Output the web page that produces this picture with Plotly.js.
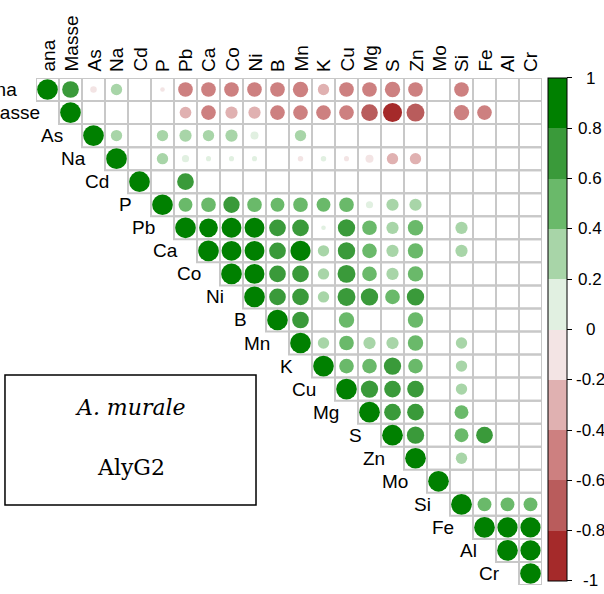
<!DOCTYPE html>
<html>
<head>
<meta charset="utf-8">
<script src="https://cdn.plot.ly/plotly-3.0.1.min.js"></script>
<style>html,body{margin:0;padding:0;background:#fff;overflow:hidden}</style>
</head>
<body>
<div id="chart" style="width:604px;height:594px"></div>
<script>
// Variable names (rows / columns of the correlation matrix)
const variables = ["ana","Masse","As","Na","Cd","P","Pb","Ca","Co","Ni","B","Mn","K","Cu","Mg","S","Zn","Mo","Si","Fe","Al","Cr"];

// Upper triangle rows: each row starts at the diagonal (null = blank cell)
const r_ana   = [1, 0.65, -0.1, 0.3, null, -0.05, -0.5, -0.5, -0.5, -0.5, -0.5, -0.55, -0.3, -0.5, -0.5, -0.55, -0.5, null, -0.5, null, null, null];
const r_Masse = [1, null, null, null, null, -0.32, -0.5, -0.35, -0.35, -0.5, -0.5, -0.5, -0.5, -0.65, -0.85, -0.75, null, -0.55, -0.5, null, null];
const r_As    = [1, 0.3, null, 0.3, 0.35, 0.3, 0.35, 0.15, null, 0.3, null, null, null, null, null, null, null, null, null, null];
const r_Na    = [1, null, 0.3, 0.12, 0.06, 0.06, 0.06, null, -0.07, 0.07, -0.06, -0.15, -0.3, -0.3, null, null, null, null, null];
const r_Cd    = [1, null, 0.65, null, null, null, null, null, null, null, null, null, null, null, null, null, null, null];
const r_P     = [1, 0.45, 0.5, 0.62, 0.5, 0.45, 0.5, 0.45, 0.5, 0.12, 0.35, 0.35, null, null, null, null, null];
const r_Pb    = [1, 0.82, 0.92, 0.92, 0.65, 0.65, 0.05, 0.7, 0.5, 0.35, 0.55, null, 0.35, null, null, null];
const r_Ca    = [1, 0.92, 0.92, 0.65, 0.95, 0.3, 0.7, 0.5, 0.35, 0.55, null, 0.35, null, null, null];
const r_Co    = [1, 0.92, 0.65, 0.65, 0.3, 0.75, 0.5, 0.35, 0.55, null, null, null, null, null];
const r_Ni    = [1, 0.65, 0.65, 0.3, 0.75, 0.7, 0.5, 0.7, null, null, null, null, null];
const r_B     = [1, 0.65, null, 0.55, null, null, 0.55, null, null, null, null, null];
const r_Mn    = [1, 0.3, 0.5, 0.35, 0.35, 0.55, null, 0.3, null, null, null];
const r_K     = [1, 0.5, 0.5, 0.7, 0.5, null, 0.3, null, null, null];
const r_Cu    = [1, 0.7, 0.65, 0.65, null, 0.3, null, null, null];
const r_Mg    = [1, 0.65, 0.65, null, 0.45, null, null, null];
const r_S     = [1, 0.7, null, 0.45, 0.65, null, null];
const r_Zn    = [1, null, 0.3, null, null, null];
const r_Mo    = [1, null, null, null, null];
const r_Si    = [1, 0.45, 0.45, 0.45];
const r_Fe    = [1, 0.95, 0.95];
const r_Al    = [1, 0.95];
const r_Cr    = [1];
const corrRows = [r_ana, r_Masse, r_As, r_Na, r_Cd, r_P, r_Pb, r_Ca, r_Co, r_Ni, r_B, r_Mn, r_K, r_Cu, r_Mg, r_S, r_Zn, r_Mo, r_Si, r_Fe, r_Al, r_Cr];

// Colour legend
const binColors = ["#a52a2a","#b95c5c","#cd8080","#e0b1b1","#f3e4e4","#e1f0e1","#a8d5a8","#6ab96a","#3a9a3a","#008000"];
const colorbarTicks = [1, 0.8, 0.6, 0.4, 0.2, 0, -0.2, -0.4, -0.6, -0.8, -1];
const colorbarTickLabels = ["1","0.8","0.6","0.4","0.2","0","-0.2","-0.4","-0.6","-0.8","-1"];

// Caption box text
const captionSpecies = "A. murale";
const captionSample = "AlyG2";

const n = variables.length;
const xs = [], ys = [], vals = [], sizes = [], hover = [];
const shapes = [];
corrRows.forEach((row, i) => {
  row.forEach((v, k) => {
    const j = i + k;
    shapes.push({type:'rect', xref:'x', yref:'y', x0:j-0.5, x1:j+0.5, y0:i-0.5, y1:i+0.5,
                 line:{color:'#c8c8c8', width:2}, fillcolor:'rgba(0,0,0,0)', layer:'below'});
    if (v !== null) {
      xs.push(j); ys.push(i); vals.push(v);
      sizes.push(20.7 * Math.sqrt(Math.abs(v)));
      hover.push(variables[i] + ' / ' + variables[j] + ': ' + v);
    }
  });
});

const colorscale = [];
binColors.forEach((c, b) => { colorscale.push([b/10, c]); colorscale.push([(b+1)/10, c]); });

const trace = {
  type:'scatter', mode:'markers', x:xs, y:ys, text:hover, hoverinfo:'text',
  marker:{
    symbol:'circle', size:sizes, opacity:1, color:vals, cmin:-1, cmax:1, colorscale:colorscale,
    line:{width:0},
    showscale:true,
    colorbar:{
      thickness:19, thicknessmode:'pixels', len:0.992, lenmode:'fraction',
      x:1.0119, xanchor:'left', xpad:0, y:0.504, yanchor:'middle', ypad:0,
      outlinewidth:1, outlinecolor:'#000', borderwidth:0,
      tickmode:'array', tickvals:colorbarTicks, ticks:'outside', ticklen:5, tickwidth:1, tickcolor:'#000',
      showticklabels:false
    }
  },
  showlegend:false
};

const annotations = [];
variables.forEach((name, i) => {
  // row labels
  annotations.push({x:i-0.5, y:i, xref:'x', yref:'y', text:name, showarrow:false,
    xanchor:'right', yanchor:'middle', xshift:-17, font:{size:19, color:'#000'}});
  // column labels
  annotations.push({x:i, y:-0.5, xref:'x', yref:'y', text:name, showarrow:false, textangle:-90,
    xanchor:'center', yanchor:'bottom', yshift:4, font:{size:19, color:'#000'}});
});
colorbarTicks.forEach((v, t) => {
  annotations.push({x:1.0949, y:0.0079 + (v+1)/2*0.9921, xref:'paper', yref:'paper',
    text:colorbarTickLabels[t], showarrow:false, xanchor:'center', yanchor:'middle',
    font:{size:17, color:'#000'}});
});
annotations.push({x:0.1868, y:0.351, xref:'paper', yref:'paper', text:'<i>'+captionSpecies+'</i>',
  showarrow:false, xanchor:'center', yanchor:'middle', font:{family:'DejaVu Serif', size:22, color:'#000'}});
annotations.push({x:0.1868, y:0.2308, xref:'paper', yref:'paper', text:captionSample,
  showarrow:false, xanchor:'center', yanchor:'middle', font:{family:'DejaVu Serif', size:22, color:'#000'}});

shapes.push({type:'rect', xref:'paper', yref:'paper', x0:-0.0613, x1:0.4348, y0:0.1578, y1:0.4142,
  line:{color:'#000', width:1.5}, fillcolor:'rgba(0,0,0,0)'});

const layout = {
  width:604, height:594,
  margin:{l:36, r:62, t:78, b:9, pad:0},
  paper_bgcolor:'#fff', plot_bgcolor:'#fff',
  font:{family:'Liberation Sans, Arial, sans-serif', color:'#000'},
  xaxis:{range:[-0.5, n-0.5], visible:false, fixedrange:true},
  yaxis:{range:[n-0.5, -0.5], visible:false, fixedrange:true},
  shapes:shapes, annotations:annotations, showlegend:false
};

Plotly.newPlot('chart', [trace], layout, {displayModeBar:false, staticPlot:true});
</script>
</body>
</html>
